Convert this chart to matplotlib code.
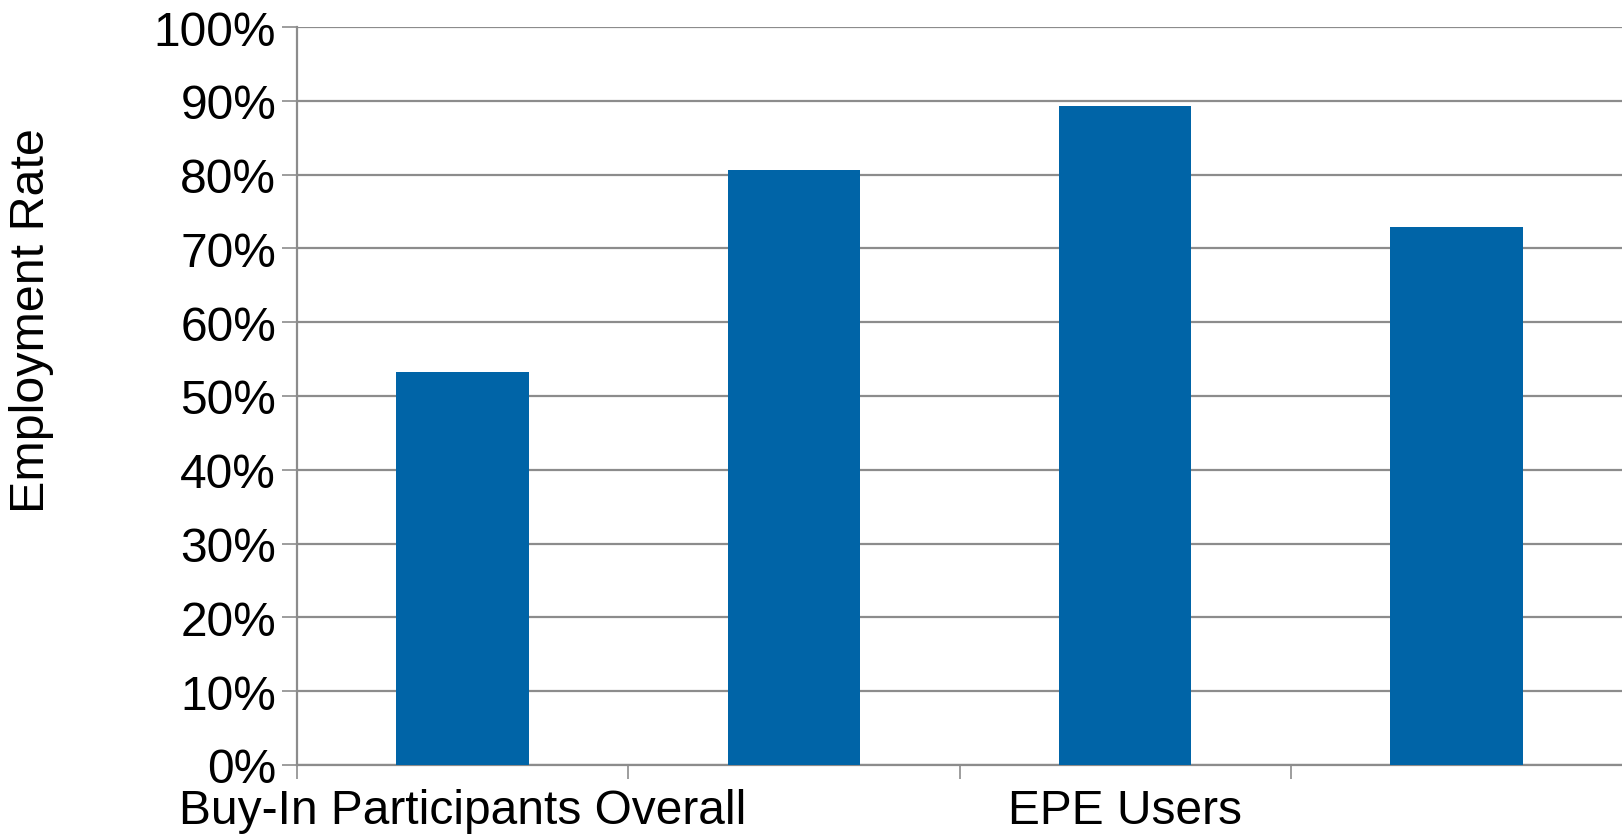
import matplotlib
matplotlib.use("Agg")
import matplotlib.pyplot as plt
from matplotlib.ticker import FixedLocator, PercentFormatter

plt.rcParams['font.family'] = ['Liberation Sans', 'DejaVu Sans']

# employment rate per group (only every other category label fits on the axis)
groups = ['Buy-In Participants Overall', '', 'EPE Users', '']
rates = [53.3, 80.6, 89.3, 72.9]
y_ticks = [0, 10, 20, 30, 40, 50, 60, 70, 80, 90, 100]

bar_color = '#0064a7'
grid_color = '#8c8c8c'

fig = plt.figure(figsize=(16.22, 8.37), dpi=100)
ax = fig.add_axes([297 / 1622, 1 - 766 / 837, 1 - 297 / 1622, (766 - 28) / 837])

pos = list(range(len(rates)))
ax.bar(pos, rates, width=0.4, color=bar_color, zorder=3)

ax.set_xlim(-0.5, len(rates) - 0.5)
ax.set_ylim(0, 100)

# y axis: percent ticks with horizontal grid
ax.set_yticks(y_ticks)
ax.yaxis.set_major_formatter(PercentFormatter(decimals=0))
ax.yaxis.grid(True, color=grid_color, linewidth=1.6, zorder=0)
ax.tick_params(axis='y', length=11, width=1.2, color=grid_color, pad=4, labelsize=34.5)

# x axis: ticks between categories, labels centered under bars
ax.xaxis.set_major_locator(FixedLocator([p - 0.5 for p in pos]))
ax.xaxis.set_minor_locator(FixedLocator(pos))
ax.set_xticklabels([], minor=False)
ax.set_xticklabels(groups, minor=True)
ax.tick_params(axis='x', which='major', length=10, width=1.2, color=grid_color)
ax.tick_params(axis='x', which='minor', length=0, pad=16.5, labelsize=34.5)

for side in ['top', 'right']:
    ax.spines[side].set_visible(False)
for side in ['left', 'bottom']:
    ax.spines[side].set_color(grid_color)
    ax.spines[side].set_linewidth(1.6)

fig.text(32 / 1622, 1 - 321 / 837, 'Employment Rate', rotation=90,
         ha='center', va='center', fontsize=34.8)

fig.savefig('out.png', dpi=100)
